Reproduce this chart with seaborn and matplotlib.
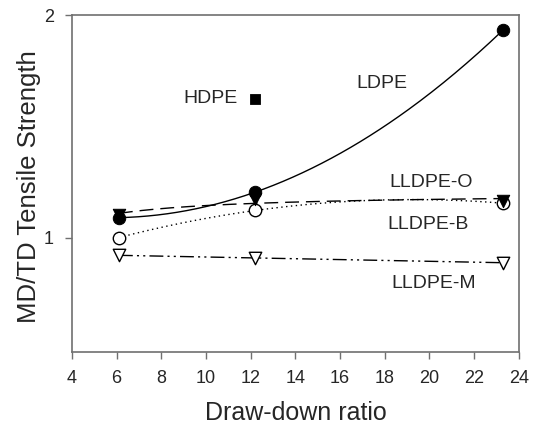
import numpy as np
import pandas as pd
import matplotlib
matplotlib.use("Agg")
import matplotlib.pyplot as plt
import seaborn as sns

# draw-down ratios and MD/TD tensile strength ratios
ddr = [6.1, 12.2, 23.3]
ldpe = [1.064, 1.152, 1.91]
lldpe_o = [1.074, 1.126, 1.12]
lldpe_b = [1.0, 1.088, 1.113]
lldpe_m = [0.947, 0.937, 0.925]
hdpe_x = [12.2]
hdpe = [1.54]

x_ticks = [4, 6, 8, 10, 12, 14, 16, 18, 20, 22, 24]
y_ticks = [1, 2]

sns.set_style("ticks")
plt.rcParams["font.family"] = ["Liberation Sans", "DejaVu Sans"]

fig = plt.figure(figsize=(5.36, 4.32), dpi=100)
ax = fig.add_axes([0.1343, 0.1852, 0.8337, 0.7798])

# smooth regression curves; LLDPE-O levels off, so that one is fit in 1/x
xs = np.linspace(min(ddr), max(ddr), 200)
series = [
    ("LDPE", ldpe, "-", "x", 2),
    ("LLDPE-O", lldpe_o, (0, (10, 5)), "inv", 1),
    ("LLDPE-B", lldpe_b, (0, (1, 2.5)), "x", 2),
    ("LLDPE-M", lldpe_m, (0, (10, 3, 1.5, 3, 1.5, 3)), "x", 1),
]
for name, vals, ls, kind, deg in series:
    xin = np.array(ddr) if kind == "x" else 1.0 / np.array(ddr)
    xg = xs if kind == "x" else 1.0 / xs
    coef = np.polyfit(xin, np.log10(vals), deg)
    fit = pd.DataFrame({"x": xs, "y": 10 ** np.polyval(coef, xg)})
    sns.lineplot(data=fit, x="x", y="y", ax=ax, color="black", lw=1.0,
                 linestyle=ls, zorder=2)

msize = 80
sns.scatterplot(x=ddr, y=lldpe_b, ax=ax, marker="o", s=msize, facecolor="white",
                edgecolor="black", linewidth=1.0, zorder=3)
sns.scatterplot(x=ddr, y=lldpe_m, ax=ax, marker="v", s=msize, facecolor="white",
                edgecolor="black", linewidth=1.0, zorder=3)
sns.scatterplot(x=ddr, y=lldpe_o, ax=ax, marker="v", s=msize, color="black",
                edgecolor="black", zorder=4)
sns.scatterplot(x=ddr, y=ldpe, ax=ax, marker="o", s=msize, color="black",
                edgecolor="black", zorder=5)
sns.scatterplot(x=hdpe_x, y=hdpe, ax=ax, marker="s", s=55, color="black",
                edgecolor="black", zorder=5)

ax.set_yscale("log")
ax.set_xlim(4, 24)
ax.set_ylim(0.7, 2)
ax.set_xticks(x_ticks)
ax.set_xticklabels([str(t) for t in x_ticks])
ax.set_yticks(y_ticks)
ax.set_yticklabels([str(t) for t in y_ticks])
ax.yaxis.set_minor_locator(matplotlib.ticker.NullLocator())

ax.tick_params(axis="both", direction="out", length=5, width=1, color="#707070",
               labelsize=13, pad=8)
for sp in ax.spines.values():
    sp.set_color("#707070")
    sp.set_linewidth(1.2)

ax.set_xlabel("Draw-down ratio", fontsize=18, labelpad=10)
ax.set_ylabel("MD/TD Tensile Strength", fontsize=18.5)
ax.yaxis.set_label_coords(-0.07, 0.49)

lab = 14
ax.text(11.4, 1.54, "HDPE", fontsize=lab, ha="right", va="center")
ax.text(16.75, 1.617, "LDPE", fontsize=lab, ha="left", va="center")
ax.text(18.2, 1.188, "LLDPE-O", fontsize=lab, ha="left", va="center")
ax.text(18.1, 1.041, "LLDPE-B", fontsize=lab, ha="left", va="center")
ax.text(18.3, 0.866, "LLDPE-M", fontsize=lab, ha="left", va="center")

fig.savefig("out.png", dpi=100)
